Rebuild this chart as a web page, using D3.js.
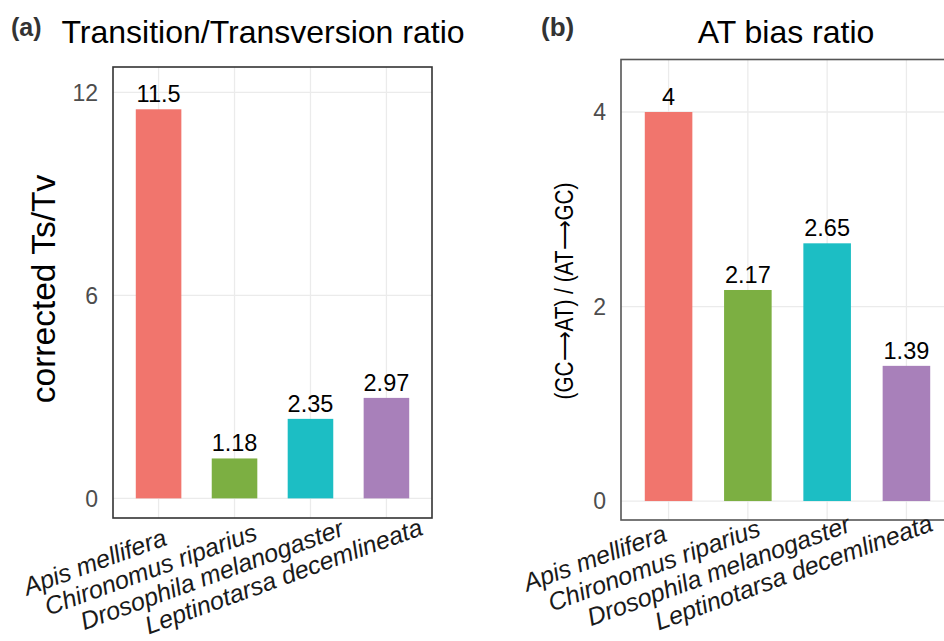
<!DOCTYPE html>
<html>
<head>
<meta charset="utf-8">
<script src="https://cdn.jsdelivr.net/npm/d3@7"></script>
<style>
  body { margin: 0; background: #fff; }
  text { font-family: "Liberation Sans", Arial, sans-serif; }
</style>
</head>
<body>
<div id="chart"></div>
<script>
// species and values
var species = ["Apis mellifera", "Chironomus riparius", "Drosophila melanogaster", "Leptinotarsa decemlineata"];
var tstv = [11.5, 1.18, 2.35, 2.97];
var atBias = [4, 2.17, 2.65, 1.39];
var tstvTicks = [0, 6, 12];
var atTicks = [0, 2, 4];
var barLabelsA = ["11.5", "1.18", "2.35", "2.97"];
var barLabelsB = ["4", "2.17", "2.65", "1.39"];
var colors = ["#F1756D", "#7CAF42", "#1CBEC4", "#A880BA"];

var width = 944, height = 641;
var svg = d3.select("#chart").append("svg").attr("width", width).attr("height", height);

var panel = function(opt) {
  var x = d3.scaleBand().domain(species).range([opt.left, opt.right])
    .paddingInner(0.4).paddingOuter(0.3);
  var y = d3.scaleLinear().domain(opt.ydomain).range([opt.bottom, opt.top]);
  var g = svg.append("g");

  // grid
  g.selectAll(".hgrid").data(opt.ticks).enter().append("line")
    .attr("x1", opt.left).attr("x2", opt.right)
    .attr("y1", d => y(d)).attr("y2", d => y(d))
    .attr("stroke", "#ebebeb").attr("stroke-width", 1.3);
  g.selectAll(".vgrid").data(species).enter().append("line")
    .attr("x1", d => x(d) + x.bandwidth() / 2).attr("x2", d => x(d) + x.bandwidth() / 2)
    .attr("y1", opt.top).attr("y2", opt.bottom)
    .attr("stroke", "#ebebeb").attr("stroke-width", 1.3);

  // bars
  g.selectAll(".bar").data(opt.values).enter().append("rect")
    .attr("x", (d, i) => x(species[i]))
    .attr("width", x.bandwidth())
    .attr("y", d => y(d))
    .attr("height", d => y(0) - y(d))
    .attr("fill", (d, i) => colors[i]);

  g.selectAll(".lbl").data(opt.values).enter().append("text")
    .attr("x", (d, i) => x(species[i]) + x.bandwidth() / 2)
    .attr("y", d => y(d) - 7)
    .attr("text-anchor", "middle")
    .style("font-size", "23.5px").attr("fill", "#000")
    .text((d, i) => opt.labels[i]);

  // border
  g.append("rect").attr("x", opt.left).attr("y", opt.top)
    .attr("width", opt.right - opt.left).attr("height", opt.bottom - opt.top)
    .attr("fill", "none").attr("stroke", opt.border).attr("stroke-width", 1.6);

  // y tick labels
  g.selectAll(".ytick").data(opt.ticks).enter().append("text")
    .attr("x", opt.left - 15).attr("y", d => y(d)).attr("dy", "0.36em")
    .attr("text-anchor", "end").attr("fill", "#4d4d4d")
    .style("font-size", "23px").text(d => d);

  // x labels, rotated
  var xl = g.selectAll(".xl").data(species).enter().append("text")
    .attr("text-anchor", "end")
    .attr("transform", d => "translate(" + (x(d) + x.bandwidth() / 2 + opt.lblDx) + "," + (opt.bottom + opt.lblDy) + ") rotate(-20)")
    .attr("dy", "0.75em")
    .style("font-size", "25px").style("font-style", "italic").attr("fill", "#1a1a1a")
    .text(d => d);
  xl.attr("x", function() { return 0.21 * this.getComputedTextLength() - 28; });

  // titles
  svg.append("text").attr("x", opt.titleX).attr("y", 43).attr("text-anchor", "middle")
    .style("font-size", "32px").attr("fill", "#000").text(opt.title);
  svg.append("text").attr("x", opt.tagX).attr("y", 36)
    .style("font-size", opt.tagSize).style("font-weight", "bold").attr("fill", "#333").text(opt.tag);
};

panel({ left: 113, right: 432, top: 67, bottom: 518, ydomain: [-0.58, 12.75], ticks: tstvTicks,
  values: tstv, labels: barLabelsA, border: "#333", title: "Transition/Transversion ratio",
  titleX: 263, tag: "(a)", tagX: 11, tagSize: "25px", lblDx: 0, lblDy: 10 });
panel({ left: 621, right: 954, top: 59.5, bottom: 520, ydomain: [-0.195, 4.54], ticks: atTicks,
  values: atBias, labels: barLabelsB, border: "#555", title: "AT bias ratio",
  titleX: 786, tag: "(b)", tagX: 541, tagSize: "26px", lblDx: -10, lblDy: 4 });

// axis titles
svg.append("text").attr("transform", "translate(55,289) rotate(-90)")
  .attr("text-anchor", "middle").style("font-size", "33.5px").attr("fill", "#000")
  .text("corrected Ts/Tv");
svg.append("text").attr("transform", "translate(573,291) rotate(-90)")
  .attr("text-anchor", "middle").style("font-size", "25px").attr("fill", "#000")
  .attr("textLength", 217).attr("lengthAdjust", "spacingAndGlyphs")
  .text("(GC\u27F6AT) / (AT\u27F6GC)");
</script>
</body>
</html>
